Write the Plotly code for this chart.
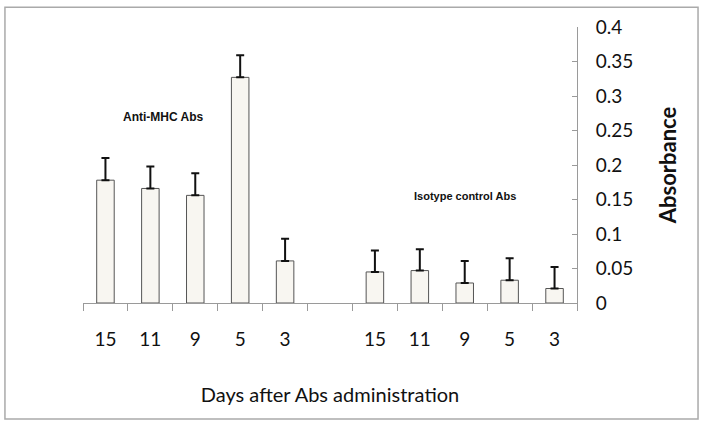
import plotly.graph_objects as go

categories = ["15", "11", "9", "5", "3", "", "15", "11", "9", "5", "3"]
anti_mhc = [0.178, 0.166, 0.156, 0.327, 0.061]
anti_mhc_err = [0.032, 0.032, 0.032, 0.032, 0.032]
isotype = [0.045, 0.047, 0.029, 0.033, 0.021]
isotype_err = [0.031, 0.031, 0.032, 0.032, 0.031]
y_ticks = [0, 0.05, 0.1, 0.15, 0.2, 0.25, 0.3, 0.35, 0.4]
y_ticktext = ["0", "0.05", "0.1", "0.15", "0.2", "0.25", "0.3", "0.35", "0.4"]

x_pos = [0, 1, 2, 3, 4, 6, 7, 8, 9, 10]
values = anti_mhc + isotype
errs = anti_mhc_err + isotype_err
labels = [c for c in categories if c != ""]

fig = go.Figure()
fig.add_trace(go.Bar(
    x=x_pos, y=values, width=0.39,
    marker=dict(color="#f8f6f1", line=dict(color="#555555", width=1)),
    error_y=dict(type="data", symmetric=False, array=errs,
                 arrayminus=[0] * len(errs), color="#111111", thickness=2, width=4),
    showlegend=False,
))

fig.update_layout(
    width=704, height=426,
    margin=dict(l=83, r=127, t=27, b=123),
    plot_bgcolor="white", paper_bgcolor="white",
    font=dict(family="Lato", color="#111111"),
    xaxis=dict(
        range=[-0.5, 10.5], tickvals=x_pos, ticktext=labels,
        ticks="", showgrid=False, zeroline=False,
        showline=True, linecolor="#9a9a9a", linewidth=1,
        tickfont=dict(size=19), ticklabelstandoff=19,
        minor=dict(tick0=-0.5, dtick=1, ticks="outside", ticklen=7,
                   tickcolor="#9a9a9a", showgrid=False),
        title=dict(text="Days after Abs administra\u200ction", font=dict(size=20), standoff=39),
    ),
    yaxis=dict(
        range=[0, 0.4], side="right", tickvals=y_ticks, ticktext=y_ticktext,
        ticks="inside", ticklen=5, tickcolor="#9a9a9a",
        showgrid=False, zeroline=False,
        showline=True, linecolor="#9a9a9a", linewidth=1,
        tickfont=dict(size=19), ticklabelstandoff=14,
        title=dict(text="<b>Absorbance</b>", font=dict(size=22), standoff=28),
    ),
    annotations=[
        dict(x=1.3, y=0.27, xref="x", yref="y", text="<b>Anti-MHC Abs</b>",
             showarrow=False, font=dict(family="Liberation Sans", size=12)),
        dict(x=8.0, y=0.155, xref="x", yref="y", text="<b>Isotype control Abs</b>",
             showarrow=False, font=dict(family="Liberation Sans", size=11)),
    ],
    shapes=[dict(type="rect", xref="paper", yref="paper",
                 x0=-0.158, x1=1.245, y0=-0.420, y1=1.072,
                 line=dict(color="#aaaaaa", width=1.5))],
)

fig.write_html("out.html", config={"displayModeBar": False},
               post_script="document.body.style.margin='0';")
